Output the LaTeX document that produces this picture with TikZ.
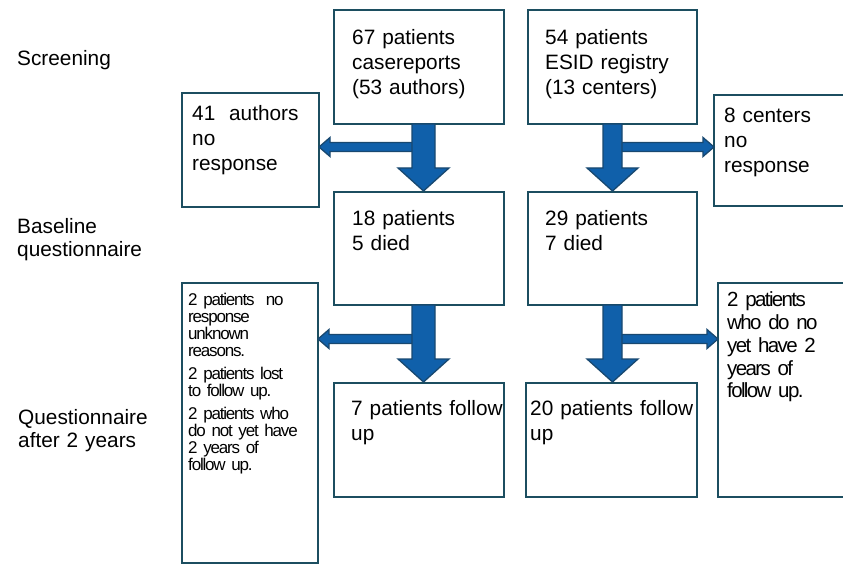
\documentclass[tikz,border=0pt]{standalone}
\usepackage{fontspec}
\setmainfont{Liberation Sans}
\newfontfamily\tightfont{Liberation Sans}[LetterSpace=-7.0, WordSpace=0.7]
\newfontfamily\tighterfont{Liberation Sans}[LetterSpace=-8.0, WordSpace=0.6]
\usetikzlibrary{calc}

\definecolor{boxline}{RGB}{28,78,96}
\definecolor{arrowfill}{RGB}{16,96,170}
\definecolor{arrowline}{RGB}{24,72,112}

\tikzset{
  box/.style={draw=boxline, line width=2.2pt, anchor=north west, inner sep=0pt, outer sep=0pt},
  txt/.style={anchor=north west, inner sep=0pt, align=left, text width=200pt, text height=0pt,
    font=\fontsize{20.8}{25}\selectfont},
  smalltxt/.style={txt, font=\tightfont\fontsize{17}{16.8}\selectfont},
  midtxt/.style={txt, font=\tighterfont\fontsize{20.5}{22.8}\selectfont},
  bigarrow/.style={fill=arrowfill, draw=arrowline, line width=1.3pt, line join=miter}
}

% block arrow pointing down: #1 top centre, #2 shaft length, #3 shaft half width
\newcommand{\blockdown}[3]{%
  \draw[bigarrow] ($(#1)+(-#3,0)$) -- ++(0,#2) -- ++({#3-25.5},0) -- ++(25.5,23)
    -- ++(25.5,-23) -- ++({#3-25.5},0) -- ++(0,-#2) -- cycle;}

% thin block arrow sideways: #1 start, #2 tip (only its x is used)
\newcommand{\blockside}[2]{%
  \draw[bigarrow] let \p1=(#1), \p2=(#2), \n1={ifthenelse(\x1>\x2,11,-11)} in
    (\x1,\y1+4.5pt) -- (\x2+\n1*1pt,\y1+4.5pt) -- (\x2+\n1*1pt,\y1+9.5pt) -- (\x2,\y1)
    -- (\x2+\n1*1pt,\y1-9.5pt) -- (\x2+\n1*1pt,\y1-4.5pt) -- (\x1,\y1-4.5pt) -- cycle;}

\begin{document}
\begin{tikzpicture}[x=1pt,y=-1pt]
\useasboundingbox (0,0) rectangle (843,564);
\clip (0,0) rectangle (843,564);

% stage labels
\node[txt, font=\fontsize{20.8}{23.5}\selectfont] (screen) at (17,65) {Screening};
\node[txt, font=\fontsize{20.8}{23.5}\selectfont] (baseq) at (17,233) {Baseline\\questionnaire};
\node[txt, font=\fontsize{20.8}{23.5}\selectfont] (afterq) at (18,424) {Questionnaire\\after 2 years};

% boxes
\node[box, minimum width=170pt, minimum height=114pt] (pc) at (334,10) {};
\node[box, minimum width=169pt, minimum height=114pt] (pr) at (528,10) {};
\node[box, minimum width=137pt, minimum height=114pt] (na) at (182,93) {};
\node[box, minimum width=140pt, minimum height=111pt] (nc) at (714,95) {};
\node[box, minimum width=170pt, minimum height=113pt] (bc) at (334,192) {};
\node[box, minimum width=169pt, minimum height=113pt] (br) at (528,192) {};
\node[box, minimum width=136pt, minimum height=280pt] (lc) at (182,283) {};
\node[box, minimum width=140pt, minimum height=214pt] (lr) at (718,283) {};
\node[box, minimum width=170pt, minimum height=114pt] (fc) at (334,383) {};
\node[box, minimum width=171pt, minimum height=114pt] (fr) at (526,383) {};

% box texts
\node[txt] (pc-t) at ($(pc.north west)+(18,34)$) {67 patients\\casereports\\(53 authors)};
\node[txt] (pr-t) at ($(pr.north west)+(17,34)$) {54 patients\\ESID registry\\(13 centers)};
\node[txt] (na-t) at ($(na.north west)+(10,27.5)$) {41\ \ authors\\no\\response};
\node[txt] (nc-t) at ($(nc.north west)+(10,27.5)$) {8 centers\\no\\response};
\node[txt] (bc-t) at ($(bc.north west)+(18,33)$) {18 patients\\5 died};
\node[txt] (br-t) at ($(br.north west)+(17,33)$) {29 patients\\7 died};
\node[txt] (fc-t) at ($(fc.north west)+(17,32)$) {7 patients follow\\up};
\node[txt] (fr-t) at ($(fr.north west)+(4,32)$) {20 patients follow\\up};
\node[smalltxt] (lc-t) at ($(lc.north west)+(6,22.5)$) {2 patients\ \ no\\response\\unknown\\reasons.\\[6.7pt]
  2 patients lost\\to follow up.\\[6.7pt]2 patients who\\do not yet have\\2 years of\\follow up.};
\node[midtxt] (lr-t) at ($(lr.north west)+(9,23.5)$) {2 patients\\who do no\\yet have 2\\years of\\follow up.};

% arrows
\coordinate (pcs) at ($(pc.south)+(4.5,0)$);
\coordinate (prs) at (pr.south);
\coordinate (bcs) at ($(bc.south)+(4.5,0)$);
\coordinate (brs) at (br.south);
\blockside{$(pcs)+(-9.5,23)$}{na.east}
\blockside{$(prs)+(7.5,23)$}{nc.west}
\blockside{$(bcs)+(-9.5,34)$}{lc.east}
\blockside{$(brs)+(7.5,34)$}{lr.west}
\blockdown{pcs}{44}{11.5}
\blockdown{prs}{44}{9.5}
\blockdown{bcs}{54}{11.5}
\blockdown{brs}{54}{9.5}
\end{tikzpicture}
\end{document}
